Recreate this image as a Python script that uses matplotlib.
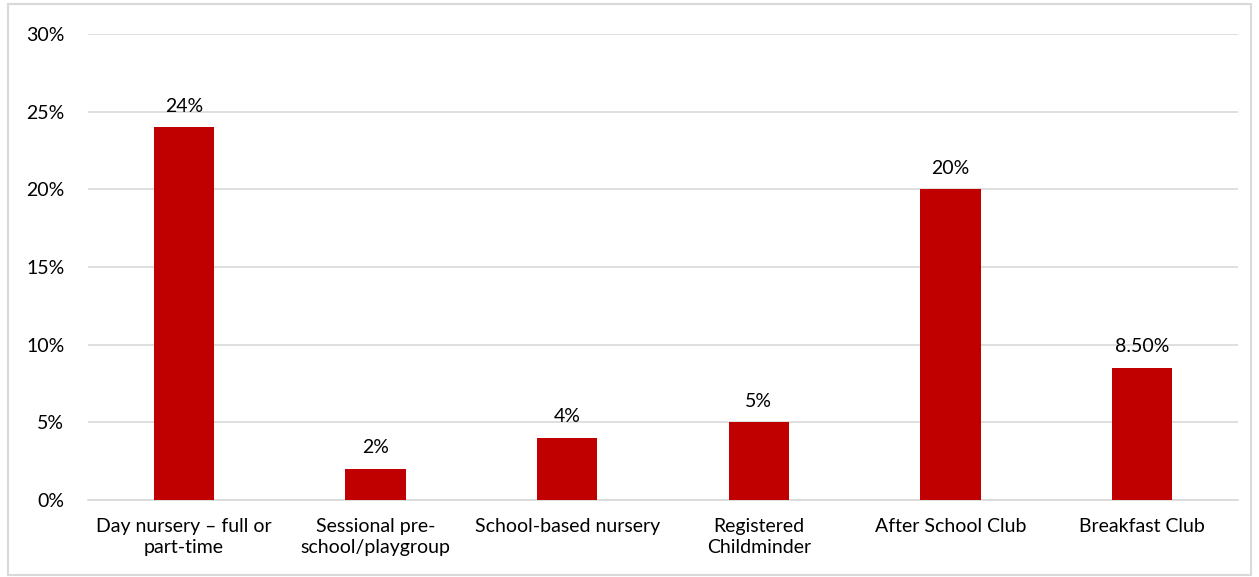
import matplotlib.pyplot as plt
from matplotlib.patches import Rectangle

plt.rcParams["font.family"] = ["Lato", "DejaVu Sans"]

# Childcare usage by provider type
categories = [
    "Day nursery \u2013 full or\npart-time",
    "Sessional pre-\nschool/playgroup",
    "School-based nursery",
    "Registered\nChildminder",
    "After School Club",
    "Breakfast Club",
]
values = [24, 2, 4, 5, 20, 8.5]
value_labels = ["24%", "2%", "4%", "5%", "20%", "8.50%"]
y_ticks = [0, 5, 10, 15, 20, 25, 30]

BAR_COLOR = "#c00000"
GRID_COLOR = "#d9d9d9"
FONT_SIZE = 14

fig = plt.figure(figsize=(12.59, 5.77), dpi=100)
ax = fig.add_axes([0.0699, 0.1334, 0.9134, 0.8076])

x = list(range(len(categories)))
bars = ax.bar(x, values, width=0.315, color=BAR_COLOR, zorder=3)

for bar, label in zip(bars, value_labels):
    ax.annotate(
        label,
        (bar.get_x() + bar.get_width() / 2, bar.get_height()),
        xytext=(0, 9),
        textcoords="offset points",
        ha="center",
        va="bottom",
        fontsize=FONT_SIZE,
        color="#000000",
    )

ax.set_xlim(-0.5, len(categories) - 0.5)
ax.set_ylim(0, 30)
ax.set_yticks(y_ticks)
ax.set_yticklabels([f"{t}%" for t in y_ticks])
ax.set_xticks(x)
ax.set_xticklabels(categories, linespacing=1.25)

ax.grid(axis="y", color=GRID_COLOR, linewidth=1.2, zorder=0)
for side in ["top", "right", "left"]:
    ax.spines[side].set_visible(False)
ax.spines["bottom"].set_color(GRID_COLOR)
ax.spines["bottom"].set_linewidth(1.2)
ax.tick_params(axis="both", length=0, labelsize=FONT_SIZE, colors="#000000")
ax.tick_params(axis="y", pad=17)
ax.tick_params(axis="x", pad=13)

# chart frame
fig.patches.append(
    Rectangle(
        (0.0065, 0.003), 0.987, 0.99,
        transform=fig.transFigure,
        fill=False,
        edgecolor=GRID_COLOR,
        linewidth=1.5,
    )
)

fig.savefig("out.png", dpi=100)
